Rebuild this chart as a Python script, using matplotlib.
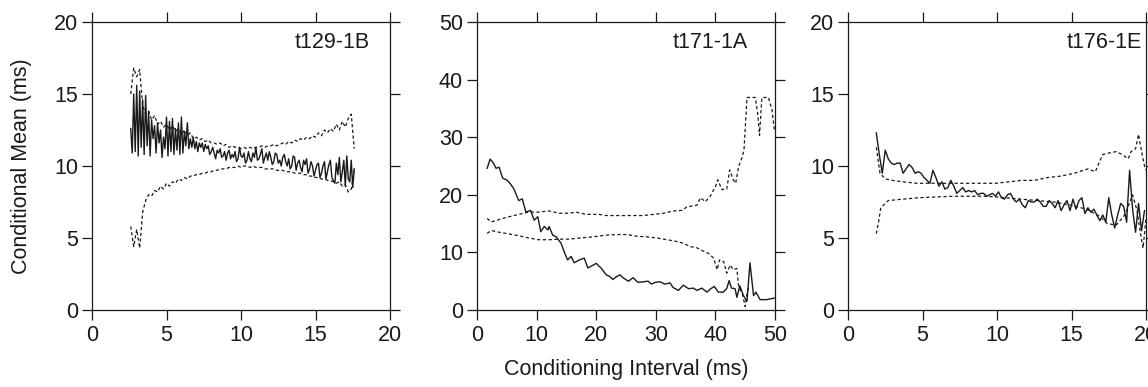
import numpy as np
import matplotlib
matplotlib.use("Agg")
import matplotlib.pyplot as plt

plt.rcParams['font.family'] = ['Liberation Sans', 'DejaVu Sans']

# ---------------- data ----------------
titles = ["t129-1B", "t171-1A", "t176-1E"]
xlabel = "Conditioning Interval (ms)"
ylabel = "Conditional Mean (ms)"
xticks_list = [[0, 5, 10, 15, 20], [0, 10, 20, 30, 40, 50], [0, 5, 10, 15, 20]]
yticks_list = [[0, 5, 10, 15, 20], [0, 10, 20, 30, 40, 50], [0, 5, 10, 15, 20]]
limits = [(20, 20), (50, 50), (20, 20)]

# Panel 1 (t129-1B)
p1_solid_range = (2.6, 17.6)
p1_solid = [
    12.6, 10.9, 15.0, 11.0, 15.6, 10.7, 15.2, 11.3, 14.6, 10.8,
    14.9, 11.4, 13.8, 10.7, 13.2, 11.9, 12.8, 10.9, 13.0, 11.6,
    12.5, 10.6, 12.0, 11.2, 13.4, 10.7, 13.1, 11.0, 13.3, 10.8,
    12.6, 11.1, 13.0, 10.8, 13.4, 10.9, 12.4, 11.4, 13.0, 11.2,
    11.9, 11.3, 12.0, 11.2, 11.7, 11.0, 11.6, 11.3, 11.6, 11.0,
    11.5, 11.2, 11.4, 10.8, 11.0, 11.3, 10.9, 10.5, 11.1, 10.9,
    11.2, 10.6, 10.7, 11.0, 10.4, 10.9, 11.1, 10.5, 10.8, 10.6,
    11.0, 10.3, 10.5, 11.3, 10.7, 10.6, 10.9, 10.2, 10.4, 11.0,
    10.5, 10.3, 10.9, 10.6, 11.3, 10.4, 10.5, 10.8, 11.2, 10.2,
    10.6, 10.9, 10.4, 11.0, 10.6, 10.1, 10.3, 10.9, 10.8, 10.2,
    10.4, 10.0, 10.6, 10.8, 10.3, 10.0, 10.5, 9.8, 10.0, 10.7,
    10.6, 9.7, 10.2, 10.4, 9.9, 9.6, 10.4, 10.1, 10.5, 9.5,
    9.8, 10.3, 10.0, 9.3, 9.7, 10.1, 10.2, 9.2, 9.5, 10.0,
    10.3, 9.1, 9.6, 10.1, 10.4, 9.2, 9.0, 8.8, 10.2, 9.4,
    10.6, 8.9, 9.6, 10.4, 8.6, 10.7, 9.1, 8.9, 10.4, 8.5,
    9.8,
]
p1_dash_range = (2.6, 17.6)
p1_upper = [
    15.0, 16.8, 16.2, 16.7, 14.2, 13.6, 13.8, 13.2, 13.5, 12.9,
    13.1, 12.7, 12.9, 12.5, 12.8, 12.4, 12.6, 12.2, 12.5, 12.1,
    12.3, 11.9, 12.0, 11.8, 11.9, 11.7, 11.8, 11.6, 11.6, 11.5,
    11.6, 11.4, 11.5, 11.3, 11.4, 11.3, 11.3, 11.2, 11.3, 11.2,
    11.3, 11.2, 11.3, 11.3, 11.4, 11.3, 11.4, 11.4, 11.5, 11.4,
    11.5, 11.6, 11.5, 11.7, 11.6, 11.8, 11.7, 11.9, 11.8, 12.0,
    11.9, 12.1, 12.0, 12.3, 12.1, 12.5, 12.3, 12.6, 12.4, 12.9,
    12.5, 13.1, 12.7, 13.3, 13.6, 11.2,
]
p1_lower = [
    5.8, 4.4, 5.6, 4.3, 6.8, 7.6, 8.0, 7.9, 8.3, 8.2,
    8.6, 8.4, 8.8, 8.6, 8.9, 8.8, 9.1, 9.0, 9.2, 9.1,
    9.3, 9.3, 9.4, 9.4, 9.5, 9.5, 9.6, 9.6, 9.7, 9.7,
    9.8, 9.8, 9.8, 9.9, 9.9, 9.9, 10.0, 9.9, 10.0, 10.0,
    9.9, 10.0, 9.9, 9.9, 9.9, 9.8, 9.8, 9.8, 9.8, 9.7,
    9.7, 9.7, 9.6, 9.6, 9.6, 9.5, 9.5, 9.5, 9.4, 9.4,
    9.3, 9.3, 9.2, 9.2, 9.1, 9.1, 9.0, 9.0, 8.9, 8.8,
    8.9, 8.6, 8.7, 8.2, 8.4, 9.7,
]

# Panel 2 (t171-1A)
p2_solid_x = [1.7, 2.2, 2.7, 3.2, 3.7, 4.3, 5.1, 5.6, 6.2, 7.0,
              7.6, 8.2, 9.0, 9.6, 10.2, 10.7, 11.3, 11.9, 12.1, 12.7,
              13.3, 14.1, 14.7, 15.2, 15.8, 16.3, 17.2, 18.0, 18.6, 19.5,
              20.0, 20.8, 21.7, 22.3, 22.8, 23.4, 24.0, 24.5, 25.4, 26.2,
              27.0, 27.9, 28.7, 29.3, 29.9, 30.7, 31.5, 32.4, 32.9, 33.8,
              34.6, 35.5, 36.3, 36.9, 37.7, 38.6, 39.1, 39.8, 40.5, 41.3,
              41.9, 42.3, 42.7, 43.3, 43.6, 44.1, 44.7, 45.3, 45.8, 46.4,
              46.8, 47.5, 48.6, 50.0]
p2_solid_y = [24.6, 26.2, 25.6, 24.6, 24.8, 22.9, 22.5, 21.9, 21.0, 19.0,
              19.3, 17.0, 17.3, 15.6, 16.2, 13.6, 14.5, 13.9, 14.5, 13.0,
              12.7, 11.6, 9.9, 8.7, 9.3, 8.2, 8.7, 9.0, 7.3, 7.8,
              8.1, 7.3, 6.1, 5.8, 5.3, 5.8, 6.1, 5.6, 5.0, 5.6,
              4.8, 4.9, 5.0, 4.5, 4.8, 4.9, 4.5, 4.7, 3.9, 3.4,
              4.3, 3.7, 3.8, 3.4, 3.8, 3.1, 3.6, 4.1, 3.1, 3.1,
              3.7, 5.1, 3.8, 3.7, 2.2, 4.2, 2.5, 1.5, 8.2, 2.5,
              3.1, 1.8, 1.8, 2.1]
p2_upper_x = [1.7, 2.4, 3.7, 5.4, 7.0, 8.7, 10.4, 12.1, 13.8, 15.5,
              16.6, 18.3, 20.5, 21.7, 23.4, 25.6, 27.9, 29.6, 31.3, 33.0,
              34.4, 35.2, 36.9, 37.5, 38.3, 39.1, 40.0, 40.4, 41.1, 41.9,
              42.4, 43.0, 43.4, 43.9, 44.5, 44.8, 45.3, 46.7, 47.1, 47.4,
              47.8, 48.9, 49.5, 49.9]
p2_upper_y = [15.9, 15.3, 15.7, 16.2, 16.6, 17.0, 17.0, 17.2, 16.8, 16.8,
              17.0, 16.6, 16.6, 16.4, 16.4, 16.4, 16.4, 16.6, 16.8, 17.2,
              17.3, 17.9, 18.2, 19.5, 18.8, 19.7, 21.4, 22.6, 20.9, 21.0,
              24.3, 22.6, 22.0, 24.9, 26.6, 27.8, 36.9, 36.9, 34.1, 30.3,
              36.9, 36.9, 34.7, 31.2]
p2_lower_x = [1.7, 2.4, 3.7, 5.4, 7.0, 8.7, 10.4, 12.1, 13.8, 15.5,
              17.2, 19.5, 21.7, 23.4, 25.2, 26.8, 28.5, 30.2, 31.9, 33.5,
              34.6, 35.8, 36.9, 38.0, 38.9, 39.7, 40.3, 40.7, 41.4, 41.9,
              42.5, 43.0, 43.6, 43.9, 44.5, 45.0, 45.3, 45.6]
p2_lower_y = [13.3, 13.8, 13.5, 13.2, 12.9, 12.5, 12.2, 12.2, 12.3, 12.3,
              12.5, 12.7, 13.0, 13.1, 13.1, 12.8, 12.7, 12.5, 12.2, 11.9,
              11.6, 11.0, 10.8, 10.2, 9.8, 9.0, 7.0, 8.7, 8.4, 6.4,
              7.8, 7.0, 7.2, 4.1, 2.9, 0.6, 2.9, 4.1]

# Panel 3 (t176-1E)
p3_solid_range = (1.9, 19.9)
p3_solid = [
    12.3, 10.8, 9.5, 11.1, 10.5, 10.2, 10.1, 10.2, 10.2, 9.5,
    9.8, 10.1, 9.9, 9.5, 9.6, 9.5, 9.2, 9.0, 8.8, 9.7,
    9.2, 8.6, 8.9, 8.4, 8.5, 9.0, 8.6, 8.1, 8.3, 8.5,
    8.2, 8.3, 8.2, 8.3, 8.0, 8.1, 8.1, 7.9, 8.0, 8.1,
    7.9, 8.2, 7.8, 7.7, 8.0, 8.1, 7.7, 7.5, 7.7, 7.3,
    7.1, 7.6, 7.5, 7.5, 7.7, 7.5, 7.2, 7.2, 7.6, 7.4,
    7.1, 7.6, 6.9, 7.3, 7.6, 6.9, 7.7, 7.0, 7.6, 7.8,
    6.7, 7.1, 6.8, 7.0, 6.6, 6.2, 6.6, 6.1, 7.8, 6.6,
    5.7, 6.6, 7.4, 7.2, 6.1, 9.7, 7.0, 5.4, 7.4, 5.5,
    6.9,
]
p3_upper_x = [1.9, 2.15, 2.5, 3.0, 3.7, 4.6, 5.3, 6.2, 7.1, 8.1,
              9.0, 9.9, 10.8, 11.6, 12.5, 13.4, 14.3, 15.2, 16.1, 16.6,
              16.8, 17.1, 17.5, 18.0, 18.4, 18.8, 19.0, 19.3, 19.5, 19.7,
              19.9, 20.0]
p3_upper_y = [11.3, 9.5, 9.1, 9.0, 8.9, 8.8, 8.8, 8.8, 8.8, 8.8,
              8.8, 8.8, 8.9, 9.0, 9.0, 9.2, 9.3, 9.5, 9.8, 9.6,
              10.1, 10.8, 10.9, 11.0, 10.8, 10.5, 11.0, 11.2, 12.2, 11.0,
              10.0, 9.7]
p3_lower_x = [1.9, 2.05, 2.2, 2.7, 3.7, 4.8, 5.9, 7.1, 8.2, 9.3,
              10.5, 11.6, 12.7, 13.8, 14.9, 16.0, 16.9, 17.4, 18.0, 18.5,
              18.7, 19.1, 19.4, 19.6, 19.8, 19.9, 20.0]
p3_lower_y = [5.3, 6.1, 7.1, 7.6, 7.7, 7.8, 7.85, 7.9, 7.9, 7.9,
              7.8, 7.7, 7.6, 7.5, 7.3, 7.0, 6.5, 6.0, 5.9, 6.5,
              6.9, 8.0, 6.9, 5.5, 4.3, 5.3, 6.4]

# ---------------- build series ----------------
p1_sx = np.linspace(*p1_solid_range, len(p1_solid))
p1_dx = np.linspace(*p1_dash_range, len(p1_upper))
p3_sx = np.linspace(*p3_solid_range, len(p3_solid))

panels = [
    dict(solid=(p1_sx, p1_solid), upper=(p1_dx, p1_upper), lower=(p1_dx, p1_lower)),
    dict(solid=(p2_solid_x, p2_solid_y), upper=(p2_upper_x, p2_upper_y), lower=(p2_lower_x, p2_lower_y)),
    dict(solid=(p3_sx, p3_solid), upper=(p3_upper_x, p3_upper_y), lower=(p3_lower_x, p3_lower_y)),
]

W, H = 1148, 387
fig = plt.figure(figsize=(W / 100, H / 100), dpi=100)
lefts = [92, 477, 848]
ax_w, ax_top, ax_bot = 298, 22, 310
title_right = [0.933, 0.91, 0.985]
FS = 15.5
col = '#1a1a1a'
dash = (0, (2.6, 2.0))

for i, p in enumerate(panels):
    ax = fig.add_axes([lefts[i] / W, (H - ax_bot) / H, ax_w / W, (ax_bot - ax_top) / H])
    xmax, ymax = limits[i]
    ax.plot(*p['upper'], color=col, lw=0.9, ls=dash)
    ax.plot(*p['lower'], color=col, lw=0.9, ls=dash)
    ax.plot(*p['solid'], color=col, lw=1.0)
    ax.set_xlim(0, xmax)
    ax.set_ylim(0, ymax)
    ax.set_xticks(xticks_list[i])
    ax.set_yticks(yticks_list[i])
    ax.tick_params(direction='out', length=7, width=0.9, top=True, right=True,
                   labelsize=FS, colors=col, pad=3)
    ax.tick_params(axis='x', pad=3.5)
    for s in ax.spines.values():
        s.set_linewidth(0.9)
        s.set_color(col)
    ax.text(title_right[i], 0.91, titles[i], transform=ax.transAxes, ha='right',
            va='baseline', fontsize=FS, color=col)

fig.text(21.5 / W, 1 - 166 / H, ylabel, rotation=90, ha='center', va='center',
         fontsize=FS, color=col)
fig.text(626 / W, (H - 375) / H, xlabel, ha='center', va='baseline',
         fontsize=FS, color=col)

fig.savefig('out.png', dpi=100)
